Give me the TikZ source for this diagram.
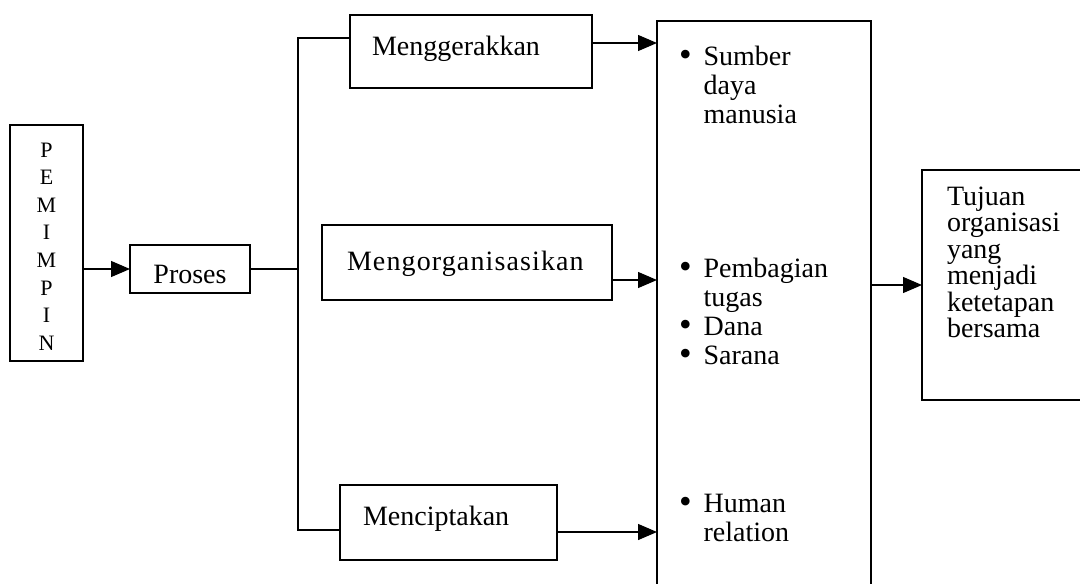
\documentclass[tikz,border=0pt]{standalone}
\usepackage{fontspec}
\setmainfont{Liberation Serif}
\usetikzlibrary{arrows.meta}
\newcommand{\bulmark}{\raisebox{-1pt}{\smash{\fontsize{36}{29}\selectfont\textbullet}}}
\begin{document}
\begin{tikzpicture}[x=1pt,y=-1pt,
  box/.style={draw, line width=1.3pt, anchor=north west, inner ysep=0pt, outer sep=0pt},
  conn/.style={line width=1.3pt},
  arr/.style={conn, -{Triangle[length=19pt,width=16pt]}},
  bigfont/.style={font=\fontsize{28}{29}\selectfont}]
\useasboundingbox (0,0) rectangle (1080,584);

\node[box, minimum width=73pt, minimum height=236pt, text width=53pt, inner xsep=10pt,
  align=center, text height=16pt, text depth=188pt,
  font=\fontsize{22}{27.6}\selectfont] (pem) at (10,125) {P\\E\\M\\I\\M\\P\\I\\N};

\node[box, minimum width=120pt, minimum height=48pt, text width=100pt, inner xsep=10pt,
  align=center, text height=28pt, text depth=0pt, bigfont] (proses) at (130,245) {Proses};

\node[box, minimum width=242pt, minimum height=73pt, inner xsep=22pt, text width=198pt,
  align=left, text height=20pt, text depth=13pt, bigfont] (mgg) at (350,15) {Menggerakkan};

\node[box, minimum width=290pt, minimum height=75pt, inner xsep=25pt, text width=240pt,
  align=left, text height=22pt, text depth=7pt, bigfont] (morg) at (322,225)
  {\addfontfeature{LetterSpace=4}Mengorganisasikan};

\node[box, minimum width=217pt, minimum height=75pt, inner xsep=23pt, text width=171pt,
  align=left, text height=20pt, text depth=15pt, bigfont] (mcp) at (340,485) {Menciptakan};

\node[box, minimum width=214pt, minimum height=580pt, inner xsep=22pt, text width=170pt,
  align=left, text height=20pt, text depth=512pt, bigfont] (big) at (657,21)
  {\begin{tabular}[t]{@{}l@{\hspace{12pt}}l@{}}
   \bulmark & Sumber\\ & daya\\ & manusia\\[125pt]
   \bulmark & Pembagian\\ & tugas\\
   \bulmark & Dana\\
   \bulmark & Sarana\\[119pt]
   \bulmark & Human\\ & relation
   \end{tabular}};

\node[box, minimum width=168pt, minimum height=230pt, inner xsep=25pt, text width=118pt,
  align=left, text height=20pt, text depth=180pt,
  font=\fontsize{28}{26.5}\selectfont] (tuj) at (922,170)
  {Tujuan\\organisasi\\yang\\menjadi\\ketetapan\\bersama};

\coordinate (top) at (298,38);
\coordinate (bot) at (298,530);

\draw[arr] (proses.west -| pem.east) -- (proses.west);
\draw[conn] (proses.east) -- (proses.east -| top);
\draw[conn] (mgg.west |- top) -- (top) -- (bot) -- (mcp.west |- bot);
\draw[arr] ([yshift=8.5pt]mgg.east) -- ([yshift=8.5pt]mgg.east -| big.west);
\draw[arr] ([yshift=-17.5pt]morg.east) -- ([yshift=-17.5pt]morg.east -| big.west);
\draw[arr] ([yshift=-9.5pt]mcp.east) -- ([yshift=-9.5pt]mcp.east -| big.west);
\draw[arr] (tuj.west -| big.east) -- (tuj.west);
\end{tikzpicture}
\end{document}
